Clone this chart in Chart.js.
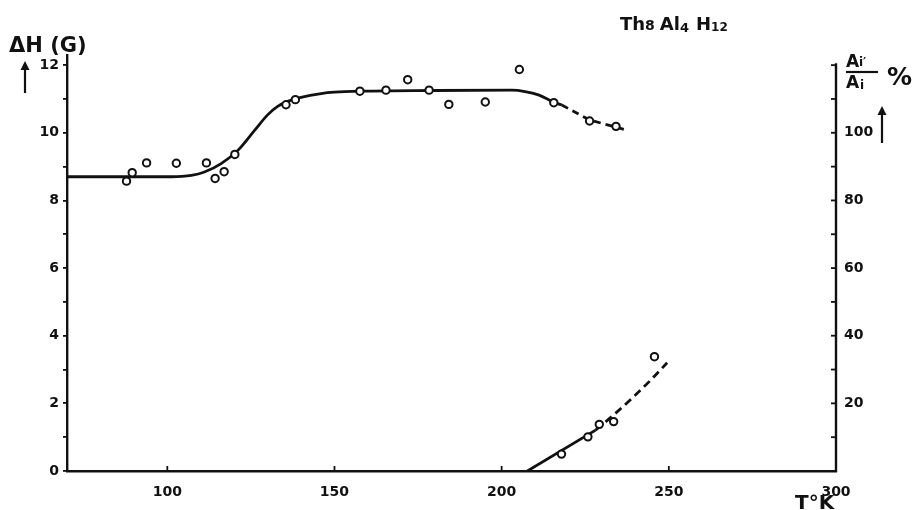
<!DOCTYPE html>
<html>
<head>
<meta charset="utf-8">
<script src="https://cdn.jsdelivr.net/npm/chart.js@4/dist/chart.umd.min.js"></script>
<style>
  html, body { margin: 0; padding: 0; background: #fff; }
  #wrap { width: 913px; height: 510px; position: relative; }
</style>
</head>
<body>
<div id="wrap"><canvas id="c" width="913" height="510"></canvas></div>
<script>
// ---- data ----
// Line width ΔH (G) measurements (left axis)
const tempUpper = [87.8, 89.5, 93.8, 102.7, 111.7, 114.3, 117.0, 120.2, 135.5, 138.3, 157.6, 165.4, 171.9, 178.3, 184.2, 195.1, 205.3, 215.6, 226.3, 234.2];
const dHUpper   = [8.57, 8.82, 9.11, 9.10, 9.11, 8.65, 8.85, 9.36, 10.83, 10.98, 11.23, 11.26, 11.57, 11.26, 10.84, 10.91, 11.87, 10.89, 10.35, 10.19];
// fitted curve for ΔH (solid part)
const tempCurve = [70, 95, 101.2, 107.2, 111.1, 116.1, 121.1, 126.1, 130.0, 133.0, 136.0, 140.0, 146.0, 150.0, 158, 180, 203, 207, 211, 215.5, 218];
const dHCurve   = [8.70, 8.70, 8.70, 8.74, 8.84, 9.09, 9.48, 10.07, 10.53, 10.78, 10.93, 11.05, 11.16, 11.20, 11.23, 11.25, 11.26, 11.22, 11.12, 10.91, 10.82];
// dashed extrapolation of ΔH
const tempCurveDash = [218, 226.3, 237];
const dHCurveDash   = [10.82, 10.38, 10.09];
// Ai'/Ai % measurements (right axis)
const tempLower = [217.9, 225.8, 229.2, 233.5, 245.7];
const pctLower  = [5.0, 10.1, 13.8, 14.6, 33.8];
const tempLowerLine = [207.7, 228.1];
const pctLowerLine  = [0, 12.1];
const tempLowerDash = [228.1, 233.4, 239.4, 244.6, 249.5];
const pctLowerDash  = [12.1, 16.5, 21.9, 26.9, 32.0];
// tick labels
const xTicks = [100, 150, 200, 250, 300];
const yLeftTicks = [0, 1, 2, 3, 4, 5, 6, 7, 8, 9, 10, 11, 12];
const yLeftLabels = [0, 2, 4, 6, 8, 10, 12];
const yRightTicks = [10, 20, 30, 40, 50, 60, 70, 80, 90, 100, 110, 120];
const yRightLabels = [20, 40, 60, 80, 100];

const INK = '#111';
const FONT = '"DejaVu Sans", sans-serif';

function pts(xs, ys) { return xs.map((x, i) => ({ x: x, y: ys[i] })); }

const pointStyle = {
  showLine: false, pointRadius: 3.7, pointHoverRadius: 3.7,
  pointBackgroundColor: '#fff', pointBorderColor: INK, pointBorderWidth: 2
};

const decor = {
  id: 'decor',
  afterDraw(chart) {
    const ctx = chart.ctx;
    const x = chart.scales.x, yr = chart.scales.y2;
    const ca = chart.chartArea;
    ctx.save();
    ctx.strokeStyle = INK; ctx.fillStyle = INK;
    // right axis line
    ctx.lineWidth = 2.4;
    ctx.beginPath();
    ctx.moveTo(ca.right, yr.getPixelForValue(120) - 2);
    ctx.lineTo(ca.right, ca.bottom + 1);
    ctx.stroke();
    // right axis ticks (inward)
    ctx.lineWidth = 1.8;
    yRightTicks.forEach(v => {
      const py = yr.getPixelForValue(v);
      ctx.beginPath(); ctx.moveTo(ca.right - 5, py); ctx.lineTo(ca.right, py); ctx.stroke();
    });
    // x ticks (inward, up)
    xTicks.slice(0, 4).forEach(v => {
      const px = x.getPixelForValue(v);
      ctx.beginPath(); ctx.moveTo(px, ca.bottom); ctx.lineTo(px, ca.bottom - 5); ctx.stroke();
    });

    // left title ΔH (G)
    ctx.textBaseline = 'alphabetic';
    ctx.textAlign = 'left';
    ctx.font = 'bold 21px ' + FONT;
    ctx.fillText('ΔH (G)', 9, 52);
    // arrows
    function arrowUp(ax, y0, y1) {
      ctx.lineWidth = 2.2;
      ctx.beginPath(); ctx.moveTo(ax, y0); ctx.lineTo(ax, y1 + 3); ctx.stroke();
      ctx.beginPath(); ctx.moveTo(ax - 4.5, y1 + 9); ctx.lineTo(ax, y1); ctx.lineTo(ax + 4.5, y1 + 9); ctx.closePath(); ctx.fill();
    }
    arrowUp(25, 93, 61);
    arrowUp(882, 143, 106);

    // compound title Th8 Al4 H12
    let tx = 620;
    const base = 30;
    function part(t, size, dy) {
      ctx.font = 'bold ' + size + 'px ' + FONT;
      ctx.fillText(t, tx, base + dy);
      tx += ctx.measureText(t).width;
    }
    part('Th', 18, 0); part('8', 14, 0); tx += 5;
    part('Al', 18, 0); part('4', 13, 2); tx += 7;
    part('H', 18, 0); part('12', 12, 1);

    // right axis label  Ai' / Ai  %
    const fx = 846;
    ctx.font = 'bold 17px ' + FONT;
    ctx.fillText('A', fx, 67);
    ctx.font = 'bold 12px ' + FONT;
    ctx.fillText('i\u2032', fx + 13, 66);
    ctx.lineWidth = 2.2;
    ctx.beginPath(); ctx.moveTo(846, 72); ctx.lineTo(878, 72); ctx.stroke();
    ctx.font = 'bold 17px ' + FONT;
    ctx.fillText('A', fx, 88);
    ctx.font = 'bold 12px ' + FONT;
    ctx.fillText('i', fx + 14, 89);
    ctx.font = 'bold 25px ' + FONT;
    ctx.fillText('%', 887, 85);

    // x title
    ctx.font = 'bold 20px ' + FONT;
    ctx.fillText('T°K', 795, 509);
    ctx.restore();
  }
};

new Chart(document.getElementById('c'), {
  type: 'scatter',
  data: {
    datasets: [
      Object.assign({ label: 'ΔH', data: pts(tempUpper, dHUpper), yAxisID: 'y' }, pointStyle),
      { label: 'ΔH fit', data: pts(tempCurve, dHCurve), yAxisID: 'y', showLine: true,
        borderColor: INK, borderWidth: 2.8, pointRadius: 0, cubicInterpolationMode: 'monotone', fill: false },
      { label: 'ΔH extrap', data: pts(tempCurveDash, dHCurveDash), yAxisID: 'y', showLine: true,
        borderColor: INK, borderWidth: 2.8, borderDash: [7, 5], pointRadius: 0, tension: 0, fill: false },
      Object.assign({ label: 'ratio', data: pts(tempLower, pctLower), yAxisID: 'y2' }, pointStyle),
      { label: 'ratio line', data: pts(tempLowerLine, pctLowerLine), yAxisID: 'y2', showLine: true,
        borderColor: INK, borderWidth: 2.8, pointRadius: 0, fill: false },
      { label: 'ratio extrap', data: pts(tempLowerDash, pctLowerDash), yAxisID: 'y2', showLine: true,
        borderColor: INK, borderWidth: 2.8, borderDash: [8, 5], pointRadius: 0, cubicInterpolationMode: 'monotone', fill: false }
    ]
  },
  options: {
    responsive: false,
    animation: false,
    events: [],
    layout: { padding: { top: 55, left: 0, right: 0, bottom: 0 } },
    plugins: { legend: { display: false }, tooltip: { enabled: false } },
    scales: {
      x: {
        type: 'linear', min: 70, max: 300, position: 'bottom',
        afterBuildTicks: s => { s.ticks = xTicks.map(v => ({ value: v })); },
        afterFit: s => { s.height = 39; },
        grid: { display: false },
        border: { display: true, color: INK, width: 2.4 },
        ticks: { color: INK, padding: 5, maxRotation: 0, font: { family: FONT, weight: 'bold', size: 14 } }
      },
      y: {
        type: 'linear', min: 0, max: 12.3, position: 'left',
        afterBuildTicks: s => { s.ticks = yLeftTicks.map(v => ({ value: v })); },
        afterFit: s => { s.width = 67; },
        grid: { display: true, drawOnChartArea: false, drawTicks: true, tickLength: 4, color: INK, lineWidth: 1.8 },
        border: { display: true, color: INK, width: 2.4 },
        ticks: {
          color: INK, padding: 4,
          font: { family: FONT, weight: 'bold', size: 14 },
          callback: v => yLeftLabels.includes(v) ? String(v) : ''
        }
      },
      y2: {
        type: 'linear', min: 0, max: 123, position: 'right',
        afterBuildTicks: s => { s.ticks = yRightLabels.map(v => ({ value: v })); },
        afterFit: s => { s.width = 77; },
        grid: { display: false, drawTicks: false },
        border: { display: false },
        ticks: { color: INK, padding: 8, font: { family: FONT, weight: 'bold', size: 14 } }
      }
    }
  },
  plugins: [decor]
});
</script>
</body>
</html>
